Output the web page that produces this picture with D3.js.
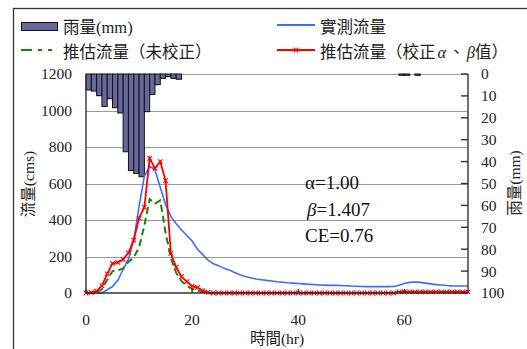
<!DOCTYPE html>
<html><head><meta charset="utf-8">
<script src="https://cdn.jsdelivr.net/npm/d3@7"></script>
<style>
html,body{margin:0;padding:0;background:#fff;}
</style></head>
<body><svg id="c" width="527" height="349" font-family="'Liberation Serif','Noto Sans CJK TC',serif"></svg>
<script>
// ---- data ----
const hours = d3.range(0, 73);
const rainHours = [0,1,2,3,4,5,6,7,8,9,10,11,12,13,14,15,16,17,59,60,62];
const rainValues = [7.3,7.8,9.9,14.8,11.3,15.4,17.8,35.5,44.1,45.4,46.9,17.2,9.3,4.9,2.0,1.2,2.0,2.4,0.6,0.6,0.6];
const observed = [0,0,0,0,18,35,70,130,185,290,473,640,695,674,580,485,420,380,345,315,285,240,210,180,160,150,135,126,112,100,90,84,77,73,69,66,62,59,56,54,52,50,48,46,44,43,42,42,41,40,38,37,36,35,35,35,35,35,36,42,52,58,60,58,54,50,46,44,41,39,38,38,38];
const uncalibrated = [0,0,3,20,72,120,124,135,170,195,250,370,515,490,508,330,190,110,65,40,22,14,5,0,0,0,0,0,0,0,0,0,0,0,0,0,0,0,0,0,0,0,0,0,0,0,0,0,0,0,0,0,0,0,0,0,0,0,0,4,5,5,5,5,5,5,5,5,5,5,4,4,4];
const calibrated = [0,3,10,40,105,162,168,185,220,290,410,470,738,683,720,615,217,141,89,62,38,30,13,4,0,0,0,0,0,0,0,0,0,0,0,0,0,0,0,0,0,0,0,0,0,0,0,0,0,0,0,0,0,0,0,0,0,0,0,6,6,6,6,6,6,6,6,6,6,6,6,6,6];
const flowTicks = [0,200,400,600,800,1000,1200];
const rainTicks = [0,10,20,30,40,50,60,70,80,90,100];
const timeTicks = [0,20,40,60];
const legendLabels = ["雨量(mm)","實測流量","推估流量（未校正）","推估流量（校正α、β值）"];
const annotations = ["α=1.00","β=1.407","CE=0.76"];

// ---- layout ----
const L = 86, R = 468, T = 74, B = 293;
const svg = d3.select("#c");
const x = d3.scaleLinear().domain([0,72]).range([L,R]);
const y = d3.scaleLinear().domain([0,1200]).range([B,T]);
const yr = d3.scaleLinear().domain([0,100]).range([T,B]);
const txt = "#222";

// outer frame
svg.append("rect").attr("x",13.5).attr("y",8.5).attr("width",700).attr("height",500)
  .attr("fill","none").attr("stroke","#333").attr("stroke-width",1.3);

// gridlines
svg.append("g").selectAll("line").data(flowTicks.filter(d=>d>0)).join("line")
  .attr("x1",L).attr("x2",R).attr("y1",d=>Math.round(y(d))+0.5).attr("y2",d=>Math.round(y(d))+0.5)
  .attr("stroke","#9a9a9a").attr("stroke-width",1.2);

// rain bars
svg.append("g").selectAll("rect").data(rainHours.map((h,i)=>({h,v:rainValues[i]}))).join("rect")
  .attr("x",d=>x(d.h)).attr("width",d=>x(d.h+1)-x(d.h))
  .attr("y",yr(0)).attr("height",d=>yr(d.v)-yr(0))
  .attr("fill","#67679c").attr("stroke","#111").attr("stroke-width",1);

// lines
const line = arr => d3.line().x((d,i)=>x(hours[i])).y(d=>y(d))(arr);
svg.append("path").attr("d",line(observed)).attr("fill","none").attr("stroke","#3d6cff").attr("stroke-width",1.6);
svg.append("path").attr("d",line(uncalibrated)).attr("fill","none").attr("stroke","#0a8a0a").attr("stroke-width",2)
  .attr("stroke-dasharray","7,4");
svg.append("path").attr("d",line(calibrated)).attr("fill","none").attr("stroke","#ff0000").attr("stroke-width",1.8);
const mk = 2.3;
const mg = svg.append("g").attr("stroke","#ff0000").attr("stroke-width",1.1);
calibrated.forEach((v,i)=>{
  const cx = x(hours[i]), cy = y(v);
  mg.append("path").attr("d",`M${cx-mk},${cy-mk}L${cx+mk},${cy+mk}M${cx-mk},${cy+mk}L${cx+mk},${cy-mk}`);
});

// axes
const ax = svg.append("g").attr("stroke","#333").attr("stroke-width",1.4);
ax.append("line").attr("x1",L).attr("x2",L).attr("y1",T).attr("y2",B);
ax.append("line").attr("x1",R).attr("x2",R).attr("y1",T).attr("y2",B);
ax.append("line").attr("x1",L).attr("x2",R).attr("y1",B).attr("y2",B);
rainTicks.forEach(d=>ax.append("line").attr("x1",R-7).attr("x2",R).attr("y1",yr(d)).attr("y2",yr(d)));
timeTicks.forEach(d=>ax.append("line").attr("x1",x(d)).attr("x2",x(d)).attr("y1",B).attr("y2",B-4));

// tick labels
svg.append("g").selectAll("text").data(flowTicks).join("text")
  .attr("x",72).attr("y",d=>y(d)).attr("dy","0.35em").attr("text-anchor","end").attr("fill",txt)
  .attr("font-size",15.5).text(d=>d);
svg.append("g").selectAll("text").data(rainTicks).join("text")
  .attr("x",481).attr("y",d=>yr(d)).attr("dy","0.35em").attr("text-anchor","start").attr("fill",txt)
  .attr("font-size",15.5).text(d=>d);
svg.append("g").selectAll("text").data(timeTicks).join("text")
  .attr("x",d=>x(d)).attr("y",320).attr("dy","0.35em").attr("text-anchor","middle").attr("fill",txt)
  .attr("font-size",15.5).text(d=>d);

// axis titles
svg.append("text").attr("transform","translate(29,184) rotate(-90)").attr("text-anchor","middle").attr("fill",txt)
  .attr("dy","0.35em").attr("font-size",15.5).text("流量(cms)");
svg.append("text").attr("transform","translate(515,183) rotate(-90)").attr("text-anchor","middle").attr("fill",txt)
  .attr("dy","0.35em").attr("font-size",15.5).text("雨量(mm)");
svg.append("text").attr("x",277).attr("y",339).attr("dy","0.35em").attr("text-anchor","middle").attr("fill",txt)
  .attr("font-size",15.5).text("時間(hr)");

// annotations
svg.append("text").attr("x",305).attr("y",182).attr("dy","0.35em").attr("font-size",19).attr("fill","#111").text(annotations[0]);
const bt = svg.append("text").attr("x",307).attr("y",209).attr("dy","0.35em").attr("font-size",19).attr("fill","#111");
bt.append("tspan").attr("font-style","italic").text(annotations[1].slice(0,1));
bt.append("tspan").text(annotations[1].slice(1));
svg.append("text").attr("x",305).attr("y",235).attr("dy","0.35em").attr("font-size",19).attr("fill","#111").text(annotations[2]);

// legend
const lg = svg.append("g");
lg.append("rect").attr("x",21.5).attr("y",22.5).attr("width",36).attr("height",8)
  .attr("fill","#67679c").attr("stroke","#111");
lg.append("line").attr("x1",277).attr("x2",315).attr("y1",25).attr("y2",25).attr("stroke","#3d6cff").attr("stroke-width",1.8);
lg.append("line").attr("x1",21).attr("x2",55).attr("y1",50).attr("y2",50).attr("stroke","#0a8a0a").attr("stroke-width",2).attr("stroke-dasharray","11,6,4,6,4");
lg.append("line").attr("x1",277).attr("x2",315).attr("y1",50).attr("y2",50).attr("stroke","#ff0000").attr("stroke-width",1.8);
lg.append("path").attr("d",`M${296-mk},${50-mk}L${296+mk},${50+mk}M${296-mk},${50+mk}L${296+mk},${50-mk}`).attr("stroke","#ff0000").attr("stroke-width",1.1);
[[63,27,0],[320,27,1],[63,52,2],[320,52,3]].forEach(([lx,ly,i])=>{
  const t = lg.append("text").attr("x",lx).attr("y",ly).attr("dy","0.35em").attr("font-size",16.5).attr("fill",txt);
  if (i===3) {
    t.append("tspan").text("推估流量（校正");
    t.append("tspan").attr("font-style","italic").attr("dx",2).text("α");
    t.append("tspan").attr("dx",2).text("、");
    t.append("tspan").attr("font-style","italic").attr("dx",2).text("β");
    t.append("tspan").text("值）");
  } else {
    t.text(legendLabels[i]);
  }
});
</script></body></html>
